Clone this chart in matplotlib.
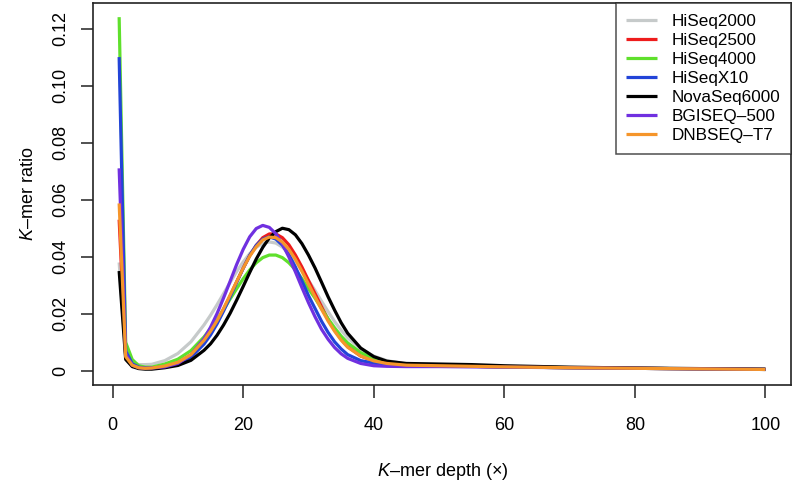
import matplotlib
matplotlib.use('Agg')
import matplotlib.pyplot as plt

plt.rcParams['font.family'] = ['Liberation Sans', 'DejaVu Sans']
plt.rcParams['mathtext.fontset'] = 'custom'
plt.rcParams['mathtext.it'] = 'Liberation Sans:italic'
plt.rcParams['mathtext.rm'] = 'Liberation Sans'

# k-mer depth values (x axis)
depth = [1, 2, 3, 4, 5, 6, 8, 10, 12, 14, 15, 16, 17, 18, 19, 20, 21, 22, 23, 24,
         25, 26, 27, 28, 29, 30, 31, 32, 33, 34, 35, 36, 38, 40, 42, 45, 50, 55, 60,
         70, 80, 90, 100]

hiseq2000 = [0.038, 0.006, 0.003, 0.0022, 0.0022, 0.0023, 0.0036, 0.0061, 0.0102, 0.0161,
             0.0195, 0.0232, 0.0271, 0.0310, 0.0348, 0.0382, 0.0411, 0.0433, 0.0447, 0.0452,
             0.0448, 0.0434, 0.0413, 0.0386, 0.0353, 0.0317, 0.0282, 0.0244, 0.0208, 0.0173,
             0.0143, 0.0116, 0.0077, 0.0052, 0.0036, 0.0024, 0.0019, 0.0017, 0.0015,
             0.0012, 0.0009, 0.0007, 0.0005]

hiseq2500 = [0.053, 0.005, 0.002, 0.0012, 0.0010, 0.0011, 0.0016, 0.0029, 0.0055, 0.0103,
             0.0135, 0.0173, 0.0216, 0.0263, 0.0312, 0.0360, 0.0404, 0.0440, 0.0467, 0.0480,
             0.0480, 0.0467, 0.0442, 0.0406, 0.0364, 0.0317, 0.0271, 0.0225, 0.0181, 0.0143,
             0.0111, 0.0085, 0.0052, 0.0035, 0.0026, 0.0020, 0.0018, 0.0016, 0.0014,
             0.0011, 0.0009, 0.0007, 0.0005]

hiseq4000 = [0.124, 0.010, 0.004, 0.0018, 0.0013, 0.0013, 0.0024, 0.0041, 0.0071, 0.0119,
             0.0148, 0.0180, 0.0215, 0.0252, 0.0288, 0.0323, 0.0354, 0.0379, 0.0397, 0.0406,
             0.0406, 0.0397, 0.0379, 0.0354, 0.0323, 0.0288, 0.0255, 0.0218, 0.0183, 0.0151,
             0.0122, 0.0098, 0.0064, 0.0043, 0.0031, 0.0022, 0.0018, 0.0016, 0.0014,
             0.0011, 0.0009, 0.0007, 0.0005]

hiseqx10 = [0.110, 0.007, 0.0025, 0.0013, 0.0010, 0.0010, 0.0014, 0.0024, 0.0048, 0.0094,
            0.0126, 0.0165, 0.0210, 0.0259, 0.0310, 0.0360, 0.0405, 0.0440, 0.0462, 0.0470,
            0.0462, 0.0441, 0.0407, 0.0364, 0.0315, 0.0264, 0.0219, 0.0174, 0.0135, 0.0102,
            0.0077, 0.0057, 0.0036, 0.0027, 0.0022, 0.0019, 0.0018, 0.0016, 0.0014,
            0.0011, 0.0009, 0.0007, 0.0005]

novaseq6000 = [0.035, 0.004, 0.0015, 0.0008, 0.0006, 0.0006, 0.0011, 0.0019, 0.0037, 0.0072,
               0.0095, 0.0125, 0.0161, 0.0202, 0.0248, 0.0296, 0.0345, 0.0392, 0.0433, 0.0466,
               0.0488, 0.0500, 0.0495, 0.0477, 0.0446, 0.0406, 0.0361, 0.0311, 0.0260, 0.0213,
               0.0169, 0.0132, 0.0080, 0.0050, 0.0034, 0.0026, 0.0024, 0.0022, 0.0018,
               0.0013, 0.0010, 0.0008, 0.0006]

bgiseq500 = [0.071, 0.006, 0.002, 0.0011, 0.0009, 0.0010, 0.0014, 0.0026, 0.0056, 0.0113,
             0.0153, 0.0201, 0.0256, 0.0314, 0.0373, 0.0426, 0.0470, 0.0499, 0.0510, 0.0503,
             0.0481, 0.0445, 0.0399, 0.0347, 0.0292, 0.0239, 0.0190, 0.0146, 0.0111, 0.0082,
             0.0060, 0.0044, 0.0026, 0.0018, 0.0016, 0.0015, 0.0015, 0.0014, 0.0013,
             0.0011, 0.0009, 0.0007, 0.0005]

dnbseq_t7 = [0.0587, 0.005, 0.002, 0.0011, 0.0009, 0.0010, 0.0017, 0.0030, 0.0057, 0.0107,
             0.0139, 0.0176, 0.0219, 0.0266, 0.0313, 0.0360, 0.0402, 0.0435, 0.0459, 0.0469,
             0.0467, 0.0452, 0.0426, 0.0391, 0.0349, 0.0304, 0.0260, 0.0216, 0.0175, 0.0139,
             0.0108, 0.0083, 0.0052, 0.0035, 0.0026, 0.0020, 0.0018, 0.0016, 0.0014,
             0.0011, 0.0009, 0.0007, 0.0005]

labels = ['HiSeq2000', 'HiSeq2500', 'HiSeq4000', 'HiSeqX10', 'NovaSeq6000',
          'BGISEQ\u2013500', 'DNBSEQ\u2013T7']
colors = ['#c6caca', '#ee1c1c', '#5fe02c', '#2244d8', '#000000', '#7030e0', '#f5952a']

x_ticks = [0, 20, 40, 60, 80, 100]
y_ticks = [0, 0.02, 0.04, 0.06, 0.08, 0.10, 0.12]
y_ticklabels = ['0', '0.02', '0.04', '0.06', '0.08', '0.10', '0.12']


def main():
    fig = plt.figure(figsize=(7.94, 4.84), dpi=100)
    ax = fig.add_axes([0.1175, 0.2045, 0.8791, 0.7893])

    series = [hiseq2000, hiseq2500, hiseq4000, hiseqx10, novaseq6000, bgiseq500, dnbseq_t7]
    for values, label, color in zip(series, labels, colors):
        ax.plot(depth, values, color=color, lw=2.3, label=label,
                solid_joinstyle='round', solid_capstyle='butt')

    ax.set_xlim(-2.96, 103.96)
    ax.set_ylim(-0.00496, 0.12896)
    ax.set_xticks(x_ticks)
    ax.set_yticks(y_ticks)
    ax.set_yticklabels(y_ticklabels, rotation=90, va='center')
    ax.tick_params(axis='both', direction='out', length=9, width=1.1,
                   labelsize=13, color='#222222')
    ax.tick_params(axis='x', pad=13.7)
    ax.tick_params(axis='y', pad=8.6)
    for spine in ax.spines.values():
        spine.set_linewidth(1.2)
        spine.set_color('#222222')

    ax.set_xlabel('$\\it{K}$\u2013mer depth (\u00d7)', fontsize=13, labelpad=20)
    ax.set_ylabel('$\\it{K}$\u2013mer ratio', fontsize=13, labelpad=11)

    leg = ax.legend(loc='upper right', fontsize=12.3, frameon=True, fancybox=False,
                    borderaxespad=0, handlelength=1.8, handletextpad=0.88,
                    labelspacing=0.24, borderpad=0.62)
    leg.get_frame().set_edgecolor('#222222')
    leg.get_frame().set_linewidth(1.1)

    fig.savefig('out.png', dpi=100)


if __name__ == "__main__":
    main()
